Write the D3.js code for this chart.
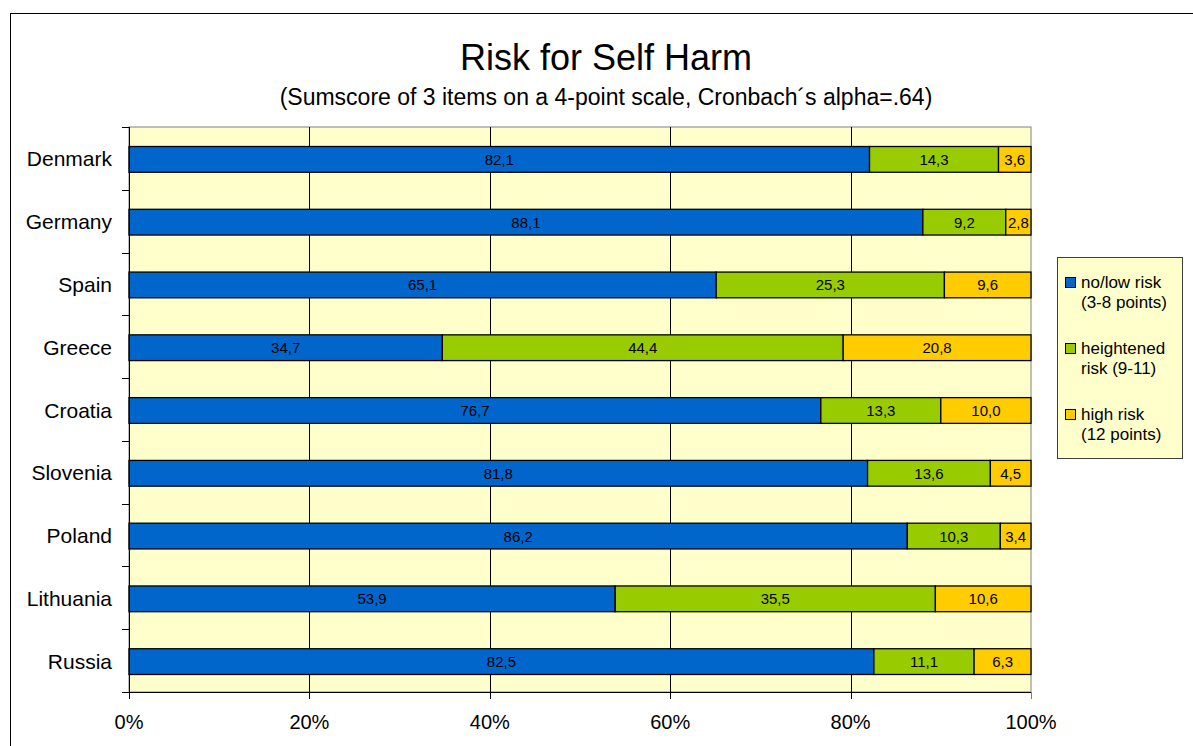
<!DOCTYPE html>
<html>
<head>
<meta charset="utf-8">
<script src="https://cdn.jsdelivr.net/npm/d3@7"></script>
<style>
  body { margin: 0; background: #fff; }
  svg { display: block; font-family: Arial, "Liberation Sans", sans-serif; }
</style>
</head>
<body>
<div id="chart"></div>
<script>
// Daten
const countries = ["Denmark", "Germany", "Spain", "Greece", "Croatia", "Slovenia", "Poland", "Lithuania", "Russia"];
const lowRisk = [82.1, 88.1, 65.1, 34.7, 76.7, 81.8, 86.2, 53.9, 82.5];
const heightenedRisk = [14.3, 9.2, 25.3, 44.4, 13.3, 13.6, 10.3, 35.5, 11.1];
const highRisk = [3.6, 2.8, 9.6, 20.8, 10.0, 4.5, 3.4, 10.6, 6.3];
const seriesNames = ["no/low risk (3-8 points)", "heightened risk (9-11)", "high risk (12 points)"];
const legendLines = [["no/low risk", "(3-8 points)"], ["heightened", "risk (9-11)"], ["high risk", "(12 points)"]];
const xTicks = [0, 0.2, 0.4, 0.6, 0.8, 1];

const colors = ["#0066CC", "#99CC00", "#FFCC00"];

const width = 1193, height = 746;
const plot = { left: 129, top: 127, right: 1031, bottom: 692 };

const svg = d3.select("#chart").append("svg")
    .attr("width", width)
    .attr("height", height);

// äußerer Rahmen
svg.append("rect")
    .attr("x", 10.5).attr("y", 13.5)
    .attr("width", width).attr("height", height)
    .attr("fill", "none")
    .attr("stroke", "#000")
    .attr("stroke-width", 1);

svg.append("text")
    .attr("x", 606).attr("y", 70)
    .attr("text-anchor", "middle")
    .style("font-size", "36px")
    .text("Risk for Self Harm");

svg.append("text")
    .attr("x", 606).attr("y", 105)
    .attr("text-anchor", "middle")
    .style("font-size", "23px")
    .text("(Sumscore of 3 items on a 4-point scale, Cronbach´s alpha=.64)");

const x = d3.scaleLinear().domain([0, 1]).range([plot.left, plot.right]);
const y = d3.scaleBand().domain(countries).range([plot.top, plot.bottom]).paddingInner(0.59).paddingOuter(0.295);

// Hintergrund Plotbereich
svg.append("rect")
    .attr("x", plot.left).attr("y", plot.top)
    .attr("width", plot.right - plot.left).attr("height", plot.bottom - plot.top)
    .attr("fill", "#FFFFCC")
    .attr("stroke", "#808080");

// Gitterlinien
svg.append("g")
    .selectAll("line")
    .data(xTicks.slice(1, -1))
    .join("line")
    .attr("x1", d => Math.round(x(d)) + 0.5).attr("x2", d => Math.round(x(d)) + 0.5)
    .attr("y1", plot.top).attr("y2", plot.bottom)
    .attr("stroke", "#000")
    .attr("stroke-width", 1);

// gestapelte Daten, normiert auf 100%
const rows = countries.map((c, i) => {
    const vals = [lowRisk[i], heightenedRisk[i], highRisk[i]];
    const total = d3.sum(vals);
    let acc = 0;
    return vals.map((v, k) => {
        const seg = { country: c, value: v, k, x0: acc / total, x1: (acc + v) / total };
        acc += v;
        return seg;
    });
});

const segs = svg.append("g")
    .selectAll("g")
    .data(rows.flat())
    .join("g");

segs.append("rect")
    .attr("x", d => x(d.x0))
    .attr("y", d => y(d.country) + 1)
    .attr("width", d => x(d.x1) - x(d.x0))
    .attr("height", y.bandwidth())
    .attr("fill", d => colors[d.k])
    .attr("stroke", "#000")
    .attr("stroke-width", 1.3);

segs.append("text")
    .attr("x", d => (x(d.x0) + x(d.x1)) / 2)
    .attr("y", d => y(d.country) + y.bandwidth() / 2 + 6.5)
    .attr("text-anchor", "middle")
    .style("font-size", "15px")
    .text(d => d.value.toFixed(1).replace(".", ","));

// Achsen
const yAxis = svg.append("g");
yAxis.append("line")
    .attr("x1", plot.left + 0.5).attr("x2", plot.left + 0.5)
    .attr("y1", plot.top).attr("y2", plot.bottom)
    .attr("stroke", "#000");
yAxis.selectAll(".tick")
    .data(d3.range(countries.length + 1))
    .join("line")
    .attr("x1", plot.left - 7).attr("x2", plot.left)
    .attr("y1", i => Math.round(plot.top + i * y.step()) + 0.5)
    .attr("y2", i => Math.round(plot.top + i * y.step()) + 0.5)
    .attr("stroke", "#000");
yAxis.selectAll("text")
    .data(countries)
    .join("text")
    .attr("x", 112)
    .attr("y", d => y(d) + y.bandwidth() / 2 + 8)
    .attr("text-anchor", "end")
    .style("font-size", "21px")
    .text(d => d);

const xAxis = svg.append("g");
xAxis.append("line")
    .attr("x1", plot.left).attr("x2", plot.right)
    .attr("y1", plot.bottom + 0.5).attr("y2", plot.bottom + 0.5)
    .attr("stroke", "#000");
xAxis.selectAll("line.tick")
    .data(xTicks)
    .join("line")
    .attr("class", "tick")
    .attr("x1", d => Math.round(x(d)) + 0.5).attr("x2", d => Math.round(x(d)) + 0.5)
    .attr("y1", plot.bottom).attr("y2", plot.bottom + 7)
    .attr("stroke", d => d === 1 ? "#808080" : "#000");
xAxis.selectAll("text")
    .data(xTicks)
    .join("text")
    .attr("x", d => x(d))
    .attr("y", 729)
    .attr("text-anchor", "middle")
    .style("font-size", "20px")
    .text(d3.format(".0%"));

// Legende
const legend = svg.append("g").attr("transform", "translate(1057, 257)");
legend.append("rect")
    .attr("x", 0.5).attr("y", 0.5)
    .attr("width", 125).attr("height", 201)
    .attr("fill", "#FFFFCC")
    .attr("stroke", "#404040");

seriesNames.forEach((name, i) => {
    const item = legend.append("g").attr("transform", `translate(0, ${i * 66})`);
    item.append("rect")
        .attr("x", 8.5).attr("y", 20.5)
        .attr("width", 10).attr("height", 10)
        .attr("fill", colors[i])
        .attr("stroke", "#000");
    item.append("text")
        .attr("x", 24).attr("y", 31)
        .style("font-size", "17px")
        .selectAll("tspan")
        .data(legendLines[i])
        .join("tspan")
        .attr("x", 24)
        .attr("dy", (d, j) => j === 0 ? 0 : 20)
        .text(d => d);
});
</script>
</body>
</html>
